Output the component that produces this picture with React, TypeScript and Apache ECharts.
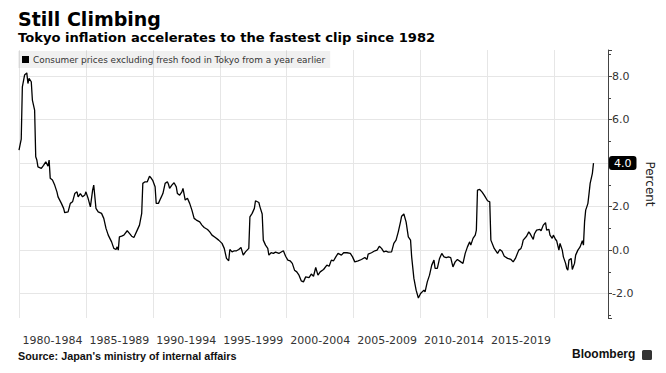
import React, { useEffect, useRef } from "react";
import * as echarts from "echarts";

const titleText = "Still Climbing";
const subtitleText = "Tokyo inflation accelerates to the fastest clip since 1982";
const seriesName = "Consumer prices excluding fresh food in Tokyo from a year earlier";
const sourceText = "Source: Japan's ministry of internal affairs";
const xLabels = ["1980-1984", "1985-1989", "1990-1994", "1995-1999", "2000-2004", "2005-2009", "2010-2014", "2015-2019"];

const months = [
  "1980-01","1980-03","1980-04","1980-06","1980-08","1980-09","1980-10","1980-12",
  "1981-01","1981-03","1981-04","1981-05","1981-06","1981-09","1981-11",
  "1982-01","1982-03","1982-04","1982-05","1982-07","1982-09","1982-11","1982-12",
  "1983-03","1983-05","1983-06","1983-09","1983-11",
  "1984-01","1984-03","1984-05","1984-06","1984-08","1984-10","1984-12",
  "1985-01","1985-03","1985-05","1985-07","1985-08","1985-10","1985-12",
  "1986-03","1986-05","1986-07","1986-09","1986-12",
  "1987-02","1987-04","1987-05","1987-06","1987-07","1987-09","1987-11",
  "1988-02","1988-04","1988-06","1988-08","1988-11",
  "1989-01","1989-03","1989-04","1989-06","1989-08","1989-10","1989-11",
  "1990-01","1990-03","1990-04","1990-06","1990-08","1990-10","1990-12",
  "1991-02","1991-03","1991-04","1991-06","1991-08","1991-10","1991-11",
  "1992-01","1992-03","1992-04","1992-06","1992-08","1992-10","1992-12",
  "1993-02","1993-04","1993-07","1993-09","1993-11",
  "1994-02","1994-04","1994-06","1994-09","1994-12",
  "1995-03","1995-05","1995-07","1995-09","1995-10","1995-12",
  "1996-02","1996-04","1996-06","1996-08","1996-10","1996-12",
  "1997-03","1997-04","1997-06","1997-08","1997-09","1997-12",
  "1998-01","1998-03","1998-04","1998-06","1998-08","1998-09","1998-11",
  "1999-01","1999-03","1999-06","1999-07","1999-10","1999-12",
  "2000-02","2000-04","2000-06","2000-08","2000-10","2000-12",
  "2001-02","2001-04","2001-06","2001-09","2001-11",
  "2002-01","2002-03","2002-05","2002-07","2002-10",
  "2003-01","2003-03","2003-05","2003-07","2003-09","2003-11",
  "2004-02","2004-04","2004-07","2004-10","2004-12",
  "2005-02","2005-05","2005-08","2005-11",
  "2006-01","2006-02","2006-05","2006-08","2006-10","2006-12",
  "2007-02","2007-04","2007-06","2007-08","2007-11",
  "2008-01","2008-03","2008-05","2008-07","2008-08","2008-10","2008-12",
  "2009-02","2009-04","2009-05","2009-07","2009-09","2009-11",
  "2010-01","2010-04","2010-05","2010-07","2010-09","2010-11",
  "2011-01","2011-02","2011-04","2011-06","2011-08","2011-10","2011-12",
  "2012-02","2012-04","2012-06","2012-08","2012-10",
  "2013-01","2013-03","2013-05","2013-07","2013-09","2013-10","2013-12",
  "2014-02","2014-03","2014-04","2014-06","2014-08","2014-10",
  "2015-01","2015-03","2015-04","2015-07","2015-10","2015-12",
  "2016-02","2016-04","2016-07","2016-10","2016-12",
  "2017-02","2017-05","2017-07","2017-08","2017-09","2017-12",
  "2018-02","2018-03","2018-06","2018-07","2018-09","2018-12",
  "2019-01","2019-03","2019-05","2019-06","2019-08","2019-09","2019-11","2019-12",
  "2020-02","2020-03","2020-05","2020-06","2020-08","2020-09","2020-11","2020-12",
  "2021-01","2021-02","2021-04","2021-05","2021-07","2021-08","2021-10","2021-12",
  "2022-02","2022-03","2022-04","2022-05","2022-06","2022-07","2022-08","2022-09","2022-11","2022-12"
];

const cpi = [
  4.6,5.1,7.5,8.05,8.15,7.66,7.9,7.74,
  6.9,6.44,4.29,4.14,3.83,3.76,3.9,
  4.06,3.86,4.14,3.3,3.22,2.99,2.68,2.45,
  2.15,1.92,1.72,1.76,2.15,
  2.22,2.6,2.68,2.45,2.6,2.45,2.53,
  2.68,2.37,1.99,2.76,2.99,1.92,1.76,
  1.69,1.46,1.0,0.69,0.38,
  0.08,0.03,0.15,0.0,0.61,0.64,0.69,
  0.89,0.77,0.64,0.58,0.92,
  1.15,1.69,3.07,3.14,3.14,3.4,3.34,
  3.19,2.91,2.15,2.15,2.38,2.6,3.07,
  3.14,3.03,2.84,2.99,3.1,2.91,2.6,
  2.53,2.68,2.84,2.3,2.38,2.15,1.84,
  1.46,1.38,1.3,1.15,1.04,
  0.95,0.84,0.69,0.58,0.46,
  0.31,0.08,-0.38,-0.49,0.03,-0.08,
  -0.03,-0.03,0.03,0.12,-0.23,-0.08,
  0.08,1.53,1.69,1.92,2.27,2.19,
  1.99,1.66,0.46,0.23,0.08,-0.23,-0.12,
  -0.15,-0.09,-0.15,-0.12,-0.03,-0.28,
  -0.46,-0.49,-0.61,-0.92,-1.0,-1.15,
  -1.41,-1.46,-1.23,-1.26,-1.1,
  -1.2,-0.8,-1.15,-1.0,-0.89,
  -0.69,-0.74,-0.46,-0.49,-0.31,-0.15,
  -0.23,-0.12,-0.12,-0.15,-0.31,
  -0.54,-0.49,-0.43,-0.34,
  -0.43,-0.18,-0.12,-0.03,0.0,0.18,
  0.08,-0.08,-0.05,-0.09,-0.08,
  0.31,0.46,0.84,1.3,1.56,1.66,1.3,
  0.61,0.46,-0.31,-1.3,-1.84,-2.2,
  -1.99,-1.84,-1.92,-1.46,-1.15,-0.69,
  -0.46,-0.84,-0.84,-0.38,-0.15,-0.31,-0.34,
  -0.31,-0.34,-0.77,-0.54,-0.43,
  -0.54,-0.61,-0.15,0.15,0.38,0.23,0.54,
  0.69,0.92,2.76,2.79,2.68,2.53,
  2.27,2.22,0.46,0.08,-0.15,0.03,
  -0.05,-0.28,-0.38,-0.43,-0.54,
  -0.38,0.0,0.08,0.23,0.46,0.64,
  0.84,0.77,0.49,0.74,0.92,0.95,
  0.89,1.15,1.26,0.92,0.95,0.69,0.54,0.69,
  0.49,0.43,0.0,0.31,0.0,-0.31,-0.61,-0.84,
  -0.92,-0.46,-0.38,-0.89,-0.61,-0.23,0.0,0.15,
  0.43,0.23,1.3,1.84,1.99,2.15,2.6,3.07,3.53,4.0
];

const FONT = "'DejaVu Sans', sans-serif";

function toYear(m: string): number {
  const [y, mo] = m.split("-").map(Number);
  return y + (mo - 1) / 12;
}

export default function App() {
  const ref = useRef<HTMLDivElement>(null);
  useEffect(() => {
    if (!ref.current) return;
    const chart = echarts.init(ref.current, null, { renderer: "svg" });
    const data = months.map((m, i) => [toYear(m), cpi[i]]);
    const last = cpi[cpi.length - 1];
    chart.setOption({
      animation: false,
      backgroundColor: "#fff",
      title: {
        left: 18,
        top: 9,
        padding: 0,
        itemGap: 3,
        text: titleText,
        subtext: subtitleText,
        textStyle: { fontFamily: FONT, fontWeight: "bold", fontSize: 19, color: "#000" },
        subtextStyle: { fontFamily: FONT, fontWeight: "bold", fontSize: 13.1, color: "#000" },
      },
      legend: {
        left: 18,
        top: 51,
        padding: [4, 5, 4, 4],
        backgroundColor: "rgba(0,0,0,0.06)",
        icon: "rect",
        itemWidth: 7,
        itemHeight: 7,
        itemGap: 4,
        textStyle: { fontFamily: FONT, fontSize: 8.9, color: "#333", padding: [0, 0, 0, -1] },
        data: [seriesName],
      },
      grid: { left: 19, right: 58, top: 50, bottom: 55 },
      xAxis: [
        {
          type: "value",
          position: "top",
          min: 1980,
          max: 2024,
          interval: 5,
          axisLine: { show: false },
          axisTick: { show: false },
          axisLabel: { show: false },
          splitLine: { show: true, lineStyle: { color: "#e6e6e6", width: 1 } },
        },
        {
          type: "value",
          position: "bottom",
          min: 1980,
          max: 2024,
          interval: 2.5,
          axisLine: { show: false },
          axisTick: { show: false },
          splitLine: { show: false },
          axisLabel: {
            margin: 17,
            fontFamily: FONT,
            fontSize: 11,
            color: "#333",
            formatter: (v: number) => {
              const k = (v - 1982.5) / 5;
              const r = Math.round(k);
              if (Math.abs(k - r) < 1e-6 && r >= 0 && r < xLabels.length) return xLabels[r];
              return "";
            },
          },
        },
      ],
      yAxis: {
        type: "value",
        position: "right",
        min: -3.12,
        max: 9.2,
        splitNumber: 6,
        axisLine: { show: true, lineStyle: { color: "#444", width: 1 } },
        axisTick: { show: true, length: 4, lineStyle: { color: "#444" } },
        minorTick: { show: true, splitNumber: 2, length: 3, lineStyle: { color: "#444" } },
        minorSplitLine: { show: false },
        splitLine: { show: true, showMinLine: false, showMaxLine: false, lineStyle: { color: "#e6e6e6", width: 1 } },
        axisLabel: {
          showMinLabel: false,
          showMaxLabel: false,
          margin: 4,
          fontFamily: FONT,
          fontSize: 11,
          color: "#333",
          formatter: (v: number) => (Math.abs(v - last) < 1e-6 ? "" : v.toFixed(1)),
        },
        name: "Percent",
        nameLocation: "middle",
        nameRotate: -90,
        nameGap: 27,
        nameTextStyle: { fontFamily: FONT, fontSize: 12, color: "#222" },
        axisPointer: {
          show: true,
          type: "none",
          value: last,
          status: "show",
          triggerTooltip: false,
          label: {
            show: true,
            backgroundColor: "#000",
            color: "#fff",
            fontFamily: FONT,
            fontSize: 11,
            padding: [2, 5, 1, 5],
            margin: 1,
            formatter: (p: any) => Number(p.value).toFixed(1),
          },
        },
      },
      series: [
        {
          name: seriesName,
          type: "line",
          xAxisIndex: 1,
          data,
          showSymbol: false,
          symbol: "none",
          color: "#000",
          lineStyle: { color: "#000", width: 1.3 },
          z: 3,
        },
      ],
      graphic: [
        {
          type: "text",
          left: 18,
          top: 350,
          style: { text: sourceText, font: "bold 10.8px 'Liberation Sans', Arial, sans-serif", fill: "#111" },
        },
        {
          type: "text",
          left: 572,
          top: 348,
          style: { text: "Bloomberg", font: "bold 12px 'Liberation Sans', Arial, sans-serif", fill: "#111" },
        },
        {
          type: "rect",
          left: 642,
          top: 350,
          shape: { width: 10, height: 10, r: 1.5 },
          style: { fill: "#333" },
        },
      ],
    });
    return () => chart.dispose();
  }, []);
  return (
    <div
      ref={ref}
      style={{ position: "absolute", left: 0, top: 0, width: 666, height: 373, background: "#fff" }}
    />
  );
}
